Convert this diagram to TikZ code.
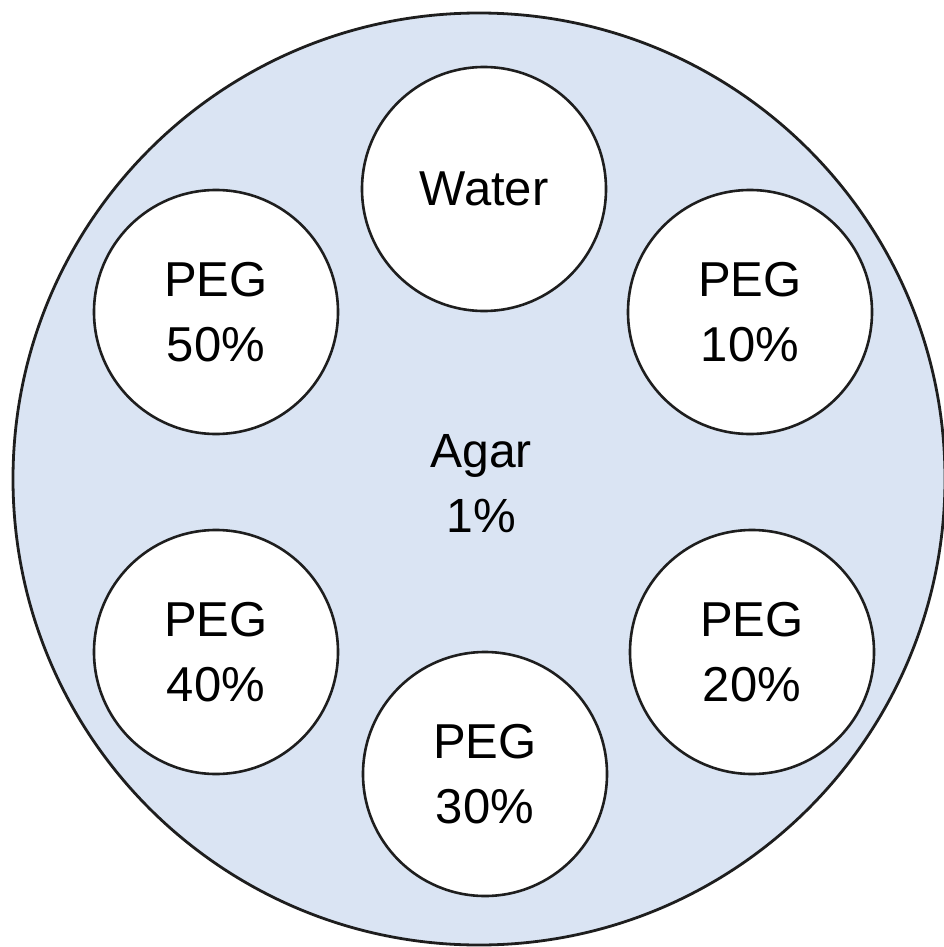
\documentclass[tikz,border=0pt]{standalone}
\usepackage{fontspec}
\setmainfont{Liberation Sans}
\definecolor{agar}{RGB}{218,228,243}
\definecolor{edge}{RGB}{30,30,30}
\begin{document}
\begin{tikzpicture}[x=1pt,y=-1pt,
  dish/.style={circle,draw=edge,line width=2.8pt,fill=agar,minimum size=932pt,inner sep=0pt},
  well/.style={circle,draw=edge,line width=2.6pt,fill=white,minimum size=244pt,inner sep=0pt,
    align=center,font=\fontsize{49}{65}\selectfont},
  lbl/.style={align=center,font=\fontsize{48}{65}\selectfont}]
\useasboundingbox (0,0) rectangle (943,947);
\node[dish] (plate) at (479,479) {};
\node[well] (water) at (484,189) {Water};
\node[well] (p10) at (750,312) {PEG\\10\%};
\node[well] (p20) at (752,652) {PEG\\20\%};
\node[well] (p30) at (485,774) {PEG\\30\%};
\node[well] (p40) at (216,652) {PEG\\40\%};
\node[well] (p50) at (216,312) {PEG\\50\%};
\node[lbl] (agar) at (481,484) {Agar\\1\%};
\end{tikzpicture}
\end{document}
